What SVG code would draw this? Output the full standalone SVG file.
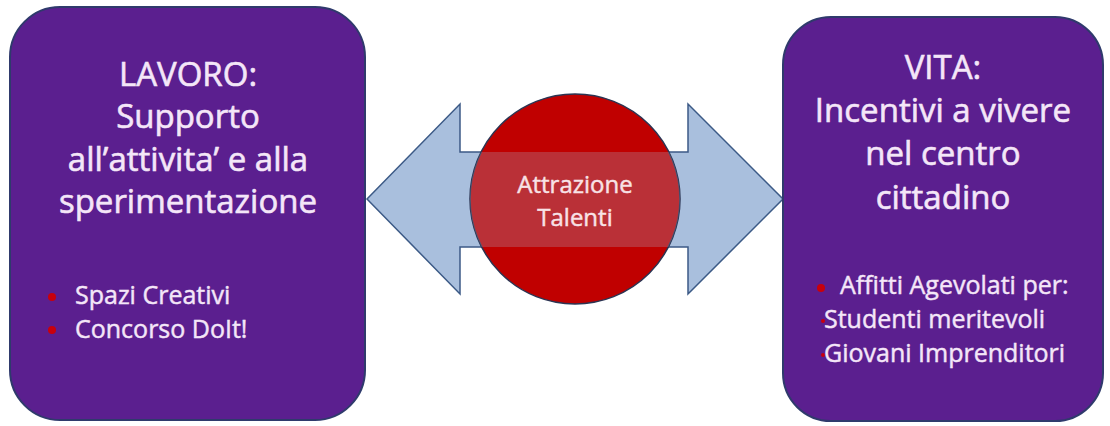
<svg xmlns="http://www.w3.org/2000/svg" width="1110" height="426" viewBox="0 0 1110 426">
  <style>
    .box { fill: #5b1f8f; stroke: #2f3a6c; stroke-width: 2; }
    .head { font-family: "Open Sans", "Noto Sans", sans-serif; font-size: 33px; fill: #f4e6f8; stroke: #f4e6f8; stroke-width: 0.6; text-anchor: middle; }
    .item { font-family: "Open Sans", "Noto Sans", sans-serif; font-size: 25px; fill: #f4e6f8; stroke: #f4e6f8; stroke-width: 0.45; }
    .hub { font-family: "Open Sans", "Noto Sans", sans-serif; font-size: 24px; fill: #f8e2e6; stroke: #f8e2e6; stroke-width: 0.45; text-anchor: middle; }
    .dot { fill: #c8000c; }
  </style>
  <defs>
    <clipPath id="circleClip">
      <circle cx="575" cy="199" r="105"/>
    </clipPath>
  </defs>
  <rect width="1110" height="426" fill="#ffffff"/>

  <!-- double-headed arrow linking the two panels -->
  <g id="connectors">
    <polygon points="367,199 460,104 460,152 688,152 688,104 783,199 688,294 688,247 460,247 460,294"
             fill="#a9bfdd" stroke="#3c5a86" stroke-width="1.5" stroke-linejoin="miter"/>
  </g>

  <!-- central hub -->
  <g id="hub">
    <circle cx="575" cy="199" r="105" fill="#c00000" stroke="#2b3452" stroke-width="1.5"/>
    <rect x="460" y="152" width="230" height="95" fill="#a9bfdd" fill-opacity="0.25" clip-path="url(#circleClip)"/>
    <text class="hub" x="575" y="193">Attrazione</text>
    <text class="hub" x="575" y="226">Talenti</text>
  </g>

  <!-- left panel: work -->
  <g id="lavoro">
    <rect class="box" x="10" y="7" width="355" height="413" rx="50" ry="50"/>
    <text class="head" x="188" y="86">LAVORO:</text>
    <text class="head" x="188" y="128">Supporto</text>
    <text class="head" x="188" y="171">all’attivita’ e alla</text>
    <text class="head" x="188" y="213">sperimentazione</text>
    <circle class="dot" cx="52" cy="297" r="4"/>
    <text class="item" x="75" y="304">Spazi Creativi</text>
    <circle class="dot" cx="52" cy="330" r="4"/>
    <text class="item" x="75" y="338">Concorso DoIt!</text>
  </g>

  <!-- right panel: living -->
  <g id="vita">
    <rect class="box" x="783" y="17" width="320" height="404" rx="48" ry="48"/>
    <text class="head" x="943" y="79">VITA:</text>
    <text class="head" x="943" y="122">Incentivi a vivere</text>
    <text class="head" x="943" y="165">nel centro</text>
    <text class="head" x="943" y="209">cittadino</text>
    <circle class="dot" cx="821" cy="288" r="4"/>
    <text class="item" x="840" y="294">Affitti Agevolati per:</text>
    <circle class="dot" cx="823" cy="321" r="2"/>
    <text class="item" x="824" y="328">Studenti meritevoli</text>
    <circle class="dot" cx="823" cy="355" r="2"/>
    <text class="item" x="824" y="362">Giovani Imprenditori</text>
  </g>
</svg>
